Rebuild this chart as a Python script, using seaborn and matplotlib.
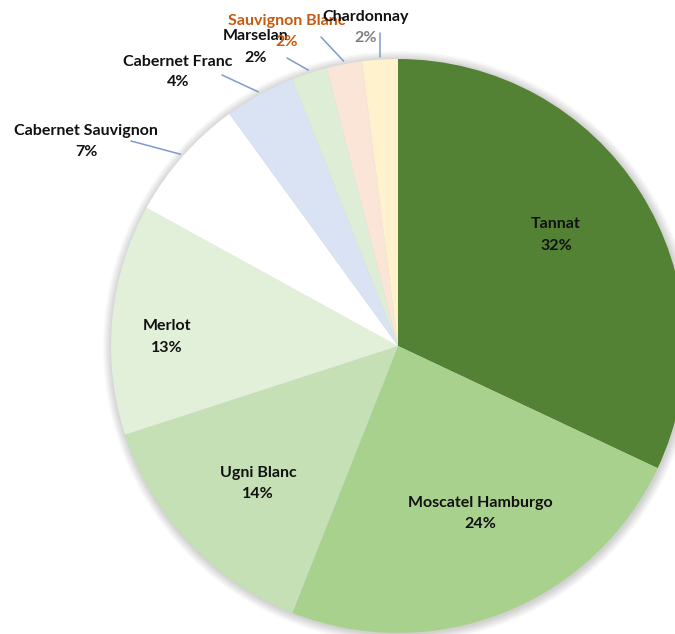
import numpy as np
import matplotlib
matplotlib.use("Agg")
import matplotlib.pyplot as plt
import seaborn as sns
from matplotlib.patches import Circle

# Grape varieties and their share of planted area (%)
varieties = ["Tannat", "Moscatel Hamburgo", "Ugni Blanc", "Merlot",
             "Cabernet Sauvignon", "Cabernet Franc", "Marselan",
             "Sauvignon Blanc", "Chardonnay"]
shares = [32, 24, 14, 13, 7, 4, 2, 2, 2]

wedge_colors = ["#548235", "#A9D18E", "#C5E0B4", "#E2F0D9", "#FFFFFF",
                "#DAE3F3", "#DEEDD6", "#FBE5D6", "#FFF2CC"]
name_colors = ["#111111"] * 7 + ["#C55A11", "#111111"]
pct_colors = ["#111111"] * 7 + ["#C55A11", "#7F7F7F"]

# Label centres in pixel coordinates (origin top-left)
label_pos = [(556, 235), (480, 513), (258, 483), (167, 337),
             (86, 141), (178, 72), (256, 47), (287, 31), (366, 27)]
# Outer end of the leader line for labels placed outside the pie (None = inside)
leader_start = [None, None, None, None,
                (131, 141), (222, 75), (287, 58), (321, 37), None]
# Chardonnay's leader runs straight down from just under its label
CHARD_TOP = 33

W, H = 675, 634
CX, CY, R = 398, 346, 287

sns.set_theme(style="white")
plt.rcParams["font.family"] = ["Lato", "DejaVu Sans"]

fig = plt.figure(figsize=(W / 100, H / 100), dpi=100)
ax = fig.add_axes([0, 0, 1, 1])

# soft shadow around the pie
for k in range(9, 0, -1):
    ax.add_patch(Circle((CX + 1, H - CY - 1), R + k, color="#000000",
                        alpha=0.02, lw=0, zorder=0))

wedges, _ = ax.pie(shares, colors=wedge_colors, startangle=90,
                   counterclock=False, center=(CX, H - CY), radius=R,
                   frame=True, wedgeprops=dict(linewidth=0))
ax.set_xlim(0, W)
ax.set_ylim(0, H)
ax.axis("off")
for w in wedges:
    w.set_zorder(2)

for i, (name, val) in enumerate(zip(varieties, shares)):
    x, y = label_pos[i]
    ax.text(x, H - y + 10.5, name, ha="center", va="center", fontsize=11.5,
            fontweight="bold", color=name_colors[i], zorder=5 + i)
    ax.text(x, H - y - 10.5, f"{val}%", ha="center", va="center", fontsize=11.5,
            fontweight="bold", color=pct_colors[i], zorder=5 + i)

    if i >= 4:
        w = wedges[i]
        mid = np.deg2rad((w.theta1 + w.theta2) / 2)
        ex = CX + (R + 3) * np.cos(mid)
        ey = (H - CY) + (R + 3) * np.sin(mid)
        if leader_start[i] is None:
            sx, sy = ex, H - CHARD_TOP
        else:
            sx, sy = leader_start[i][0], H - leader_start[i][1]
        ax.plot([sx, ex], [sy, ey], color="#7F9BCB", lw=1.1, zorder=4)

fig.savefig("out.png", dpi=100)
